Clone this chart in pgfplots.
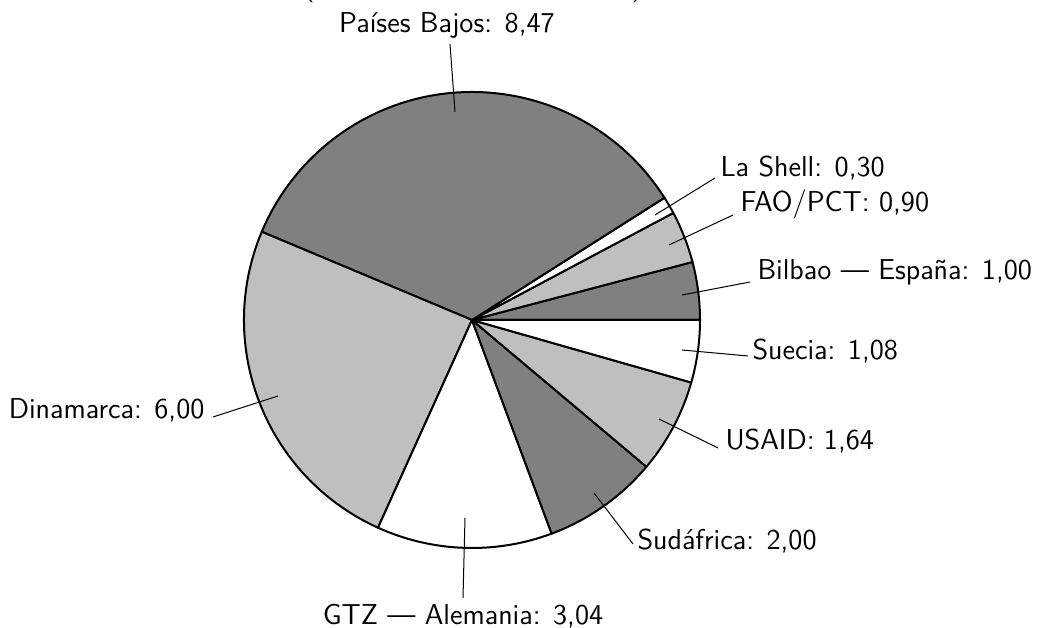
\documentclass[border=0pt]{standalone}
\usepackage{fontspec}
\usepackage{pgfplots}
\pgfplotsset{compat=1.18}
\definecolor{dk}{gray}{0.5}
\definecolor{lt}{gray}{0.75}
\begin{document}
\begin{tikzpicture}
\path[use as bounding box] (0,0) rectangle (414.8pt,251.2pt);
\begin{axis}[at={(0,0)},anchor=south west,scale only axis,
  width=414.8pt,height=251.2pt,
  xmin=0,xmax=1037,ymin=0,ymax=628,hide axis,clip=false]
\def\cx{472}\def\cy{308}\def\R{91.2pt}
\def\total{24.43}
\xdef\cum{0}
\foreach \v/\col in {1.00/dk,0.90/lt,0.30/white,8.47/dk,6.00/lt,3.04/white,2.00/dk,1.64/lt,1.08/white}{
  \pgfmathsetmacro\a{\cum/\total*360}
  \pgfmathsetmacro\b{(\cum+\v)/\total*360}
  \pgfmathsetmacro\newcum{\cum+\v}
  \xdef\cum{\newcum}
  \edef\temp{\noexpand\filldraw[fill=\col,draw=black,line width=0.8pt,line join=round] (axis cs:\cx,\cy) -- ++(\a:\R) arc[start angle=\a,end angle=\b,radius=\R] -- cycle;}
  \temp
}
\begin{scope}[font=\sffamily\fontsize{11.5}{14}\selectfont]
\draw[line width=0.4pt] (axis cs:450,584) -- (axis cs:455,516);
\node[anchor=base,inner sep=0pt] at (axis cs:447,595) {Países Bajos: 8,47};
\draw[line width=0.4pt] (axis cs:655,413) -- (axis cs:715,450);
\node[anchor=base west,inner sep=0pt] at (axis cs:720,451) {La Shell: 0,30};
\draw[line width=0.4pt] (axis cs:669,383) -- (axis cs:733,413);
\node[anchor=base west,inner sep=0pt] at (axis cs:740,416) {FAO/PCT: 0,90};
\draw[line width=0.4pt] (axis cs:682,333) -- (axis cs:750,346);
\node[anchor=base west,inner sep=0pt] at (axis cs:757,348) {Bilbao — España: 1,00};
\draw[line width=0.4pt] (axis cs:682,278) -- (axis cs:748,272);
\node[anchor=base west,inner sep=0pt] at (axis cs:752,268) {Suecia: 1,08};
\draw[line width=0.4pt] (axis cs:659,209) -- (axis cs:718,180);
\node[anchor=base west,inner sep=0pt] at (axis cs:725,178) {USAID: 1,64};
\draw[line width=0.4pt] (axis cs:594,135) -- (axis cs:633,84);
\node[anchor=base west,inner sep=0pt] at (axis cs:637,78) {Sudáfrica: 2,00};
\draw[line width=0.4pt] (axis cs:213,211) -- (axis cs:278,232);
\node[anchor=base east,inner sep=0pt] at (axis cs:205,209) {Dinamarca: 6,00};
\draw[line width=0.4pt] (axis cs:465,110) -- (axis cs:463,30);
\node[anchor=base,inner sep=0pt] at (axis cs:463,3) {GTZ — Alemania: 3,04};
\node[anchor=base,inner sep=0pt] at (axis cs:473,632) {\makebox[135.6pt]{(\hfill)}};
\end{scope}
\end{axis}
\end{tikzpicture}
\end{document}
